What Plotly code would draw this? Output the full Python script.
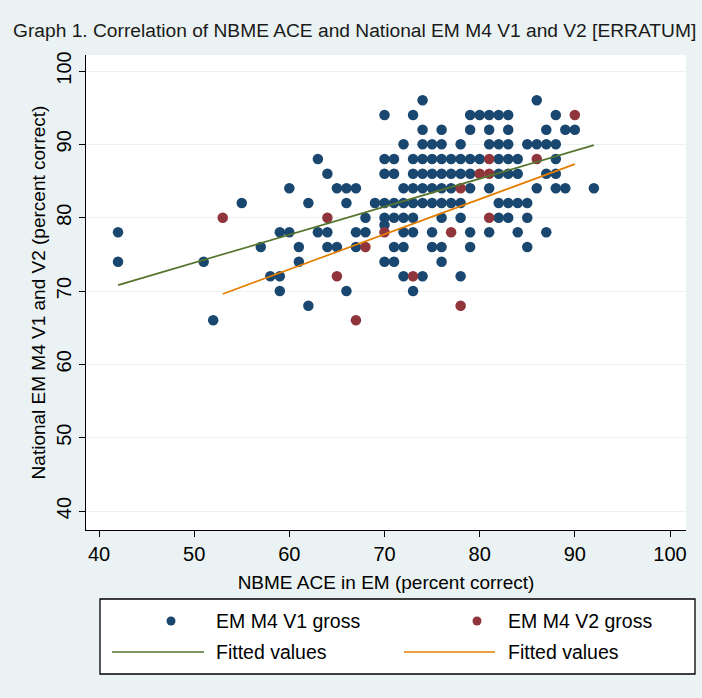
import plotly.graph_objects as go

# ---------------- data ----------------
# EM M4 V1 gross: listed row by row (y value, x values)
v1_rows = {
    96: [74, 86],
    94: [70, 73, 79, 80, 81, 82, 83, 88],
    92: [74, 76, 79, 81, 83, 87, 89, 90],
    90: [72, 74, 75, 76, 78, 81, 82, 83, 85, 86, 87, 88],
    88: [63, 70, 71, 73, 74, 75, 76, 77, 78, 79, 80, 82, 83, 84, 88],
    86: [64, 70, 71, 73, 74, 75, 76, 77, 78, 79, 82, 83, 84, 87, 88],
    84: [60, 65, 66, 67, 72, 73, 74, 75, 76, 77, 79, 81, 86, 88, 89, 92],
    82: [55, 62, 66, 69, 70, 71, 72, 73, 74, 75, 76, 77, 78, 82, 83, 84, 85],
    80: [68, 70, 71, 72, 73, 76, 78, 82, 83, 85],
    79: [70],
    78: [42, 59, 60, 63, 64, 67, 68, 72, 73, 75, 79, 81, 84, 87],
    76: [57, 61, 64, 65, 67, 71, 72, 75, 76, 79, 85],
    74: [42, 51, 61, 70, 71, 76],
    72: [58, 59, 72, 74, 78],
    70: [59, 66, 73],
    68: [62],
    66: [52],
}
v1_x = [x for y, xs in v1_rows.items() for x in xs]
v1_y = [y for y, xs in v1_rows.items() for x in xs]

# EM M4 V2 gross
v2_x = [53, 64, 65, 67, 68, 70, 73, 77, 78, 78, 80, 81, 81, 81, 86, 90]
v2_y = [80, 80, 72, 66, 76, 78, 72, 78, 84, 68, 86, 86, 88, 80, 88, 94]

# Fitted values (end points)
fit1_x = [42, 92]
fit1_y = [70.8, 89.9]
fit2_x = [53, 90]
fit2_y = [69.6, 87.3]

x_ticks = [40, 50, 60, 70, 80, 90, 100]
y_ticks = [40, 50, 60, 70, 80, 90, 100]

legend_labels = ["EM M4 V1 gross", "EM M4 V2 gross", "Fitted values", "Fitted values"]

# ---------------- styling ----------------
BLUE = "#1A476F"
RED = "#90353B"
GREEN = "#55752F"
ORANGE = "#E37E00"
BG = "#EAF2F3"
FONT = "Liberation Sans, Arial, sans-serif"

W, H = 702, 698
L, R, T, B = 86, 16, 55, 168
PW, PH = W - L - R, H - T - B

fig = go.Figure()
fig.add_trace(go.Scatter(x=v1_x, y=v1_y, mode="markers", name=legend_labels[0],
                         marker=dict(color=BLUE, size=10.5, line=dict(width=0))))
fig.add_trace(go.Scatter(x=v2_x, y=v2_y, mode="markers", name=legend_labels[1],
                         marker=dict(color=RED, size=10.5, line=dict(width=0))))
fig.add_trace(go.Scatter(x=fit1_x, y=fit1_y, mode="lines", name=legend_labels[2],
                         line=dict(color=GREEN, width=1.7)))
fig.add_trace(go.Scatter(x=fit2_x, y=fit2_y, mode="lines", name=legend_labels[3],
                         line=dict(color=ORANGE, width=1.7)))


def px_x(p):
    return (p - L) / PW


def px_y(p):
    return (H - B - p) / PH


shapes = []
annotations = []
# legend box
shapes.append(dict(type="rect", xref="paper", yref="paper",
                   x0=px_x(100), x1=px_x(695), y0=px_y(599), y1=px_y(674),
                   line=dict(color="#000000", width=1.3), fillcolor="white", layer="above"))
row1, row2 = 621, 652
# legend markers
for cx, col in [(171, BLUE), (477, RED)]:
    shapes.append(dict(type="circle", xref="paper", yref="paper",
                       x0=px_x(cx - 4.5), x1=px_x(cx + 4.5),
                       y0=px_y(row1 + 4.5), y1=px_y(row1 - 4.5),
                       line=dict(width=0), fillcolor=col, layer="above"))
# legend lines
for x0, x1, col in [(112, 204, GREEN), (404, 495, ORANGE)]:
    shapes.append(dict(type="line", xref="paper", yref="paper",
                       x0=px_x(x0), x1=px_x(x1), y0=px_y(row2), y1=px_y(row2),
                       line=dict(color=col, width=1.7), layer="above"))
for (tx, ty), txt in zip([(214, row1), (506, row1), (214, row2), (506, row2)], legend_labels):
    annotations.append(dict(xref="paper", yref="paper", x=px_x(tx), y=px_y(ty),
                            xanchor="left", yanchor="middle", showarrow=False, text=txt,
                            font=dict(family=FONT, size=19.5, color="#000000")))

fig.update_layout(
    width=W, height=H,
    margin=dict(l=L, r=R, t=T, b=B, pad=0),
    paper_bgcolor=BG, plot_bgcolor="white",
    showlegend=False,
    title=dict(text="Graph 1. Correlation of NBME ACE and National EM M4 V1 and V2 [ERRATUM]",
               x=13 / W, xanchor="left", xref="container",
               y=1 - 30 / H, yanchor="middle", yref="container",
               font=dict(family=FONT, size=19.2, color="#1a1a1a")),
    font=dict(family=FONT, color="#000000"),
    shapes=shapes, annotations=annotations,
)

x_lo = 40 - 13 / 9.517
x_hi = 100 + 16 / 9.517
y_lo = 40 - 19 / 7.333
y_hi = 100 + 16 / 7.333

fig.update_xaxes(range=[x_lo, x_hi], tickvals=x_ticks, ticktext=[str(v) for v in x_ticks],
                 showgrid=False, zeroline=False, showline=True, linecolor="#000000", linewidth=1,
                 ticks="outside", ticklen=6, tickcolor="#000000", tickwidth=1,
                 tickfont=dict(family=FONT, size=20, color="#000000"),
                 title=dict(text="NBME ACE in EM (percent correct)", standoff=11,
                            font=dict(family=FONT, size=19, color="#000000")))
fig.update_yaxes(range=[y_lo, y_hi], tickvals=y_ticks, ticktext=[str(v) for v in y_ticks],
                 showgrid=True, gridcolor=BG, gridwidth=1.3, zeroline=False,
                 showline=True, linecolor="#000000", linewidth=1,
                 ticks="outside", ticklen=6, tickcolor="#000000", tickwidth=1, tickangle=-90,
                 tickfont=dict(family=FONT, size=20, color="#000000"),
                 title=dict(text="National EM M4 V1 and V2 (percent correct)", standoff=2,
                            font=dict(family=FONT, size=19, color="#000000")))

fig.write_html("out.html",
               config={"displayModeBar": False},
               post_script="document.body.style.margin='0';document.body.style.padding='0';"
                           "document.body.style.background='" + BG + "';")
